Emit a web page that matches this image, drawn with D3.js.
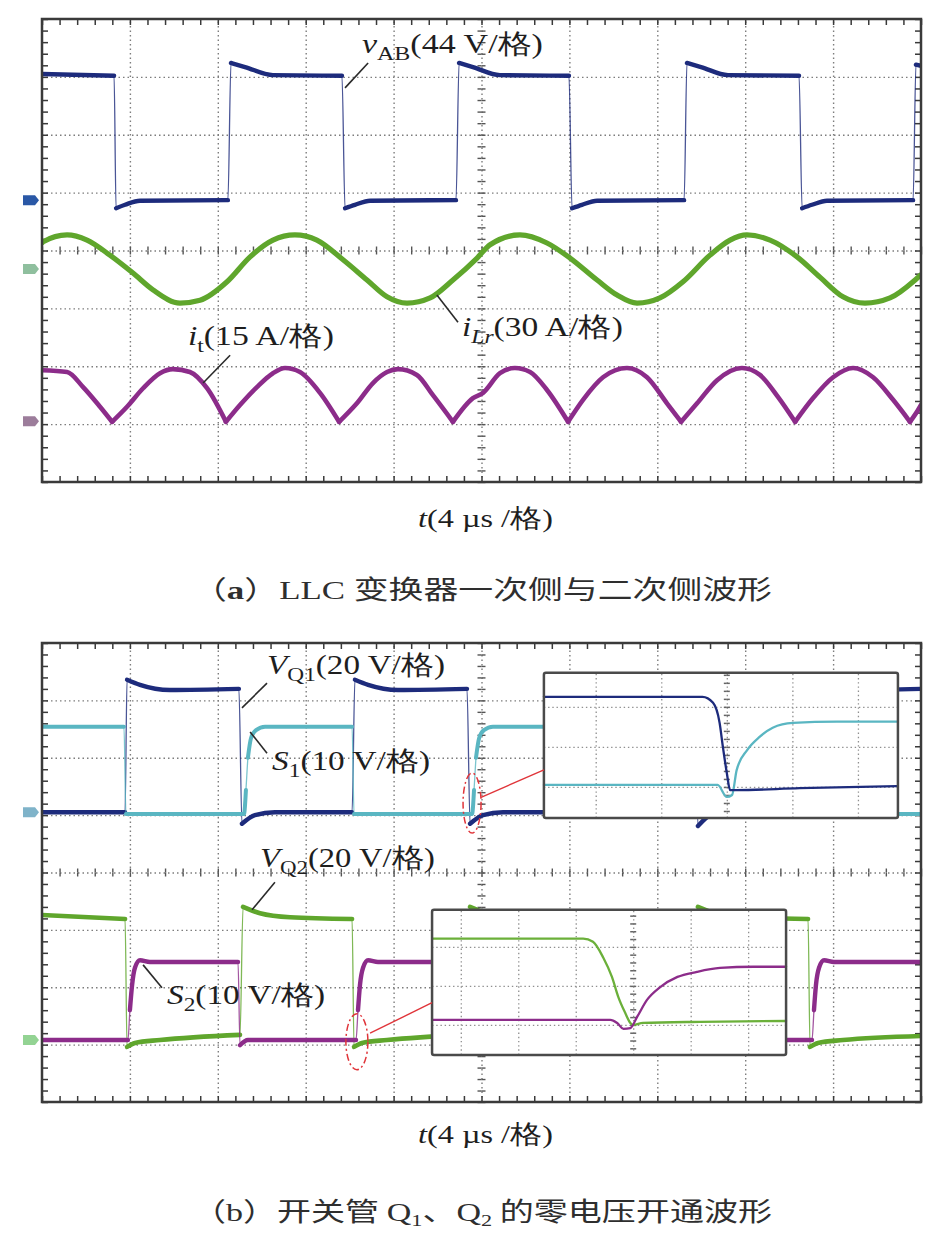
<!DOCTYPE html>
<html><head><meta charset="utf-8">
<script src="https://cdn.jsdelivr.net/npm/d3@7"></script>
<style>body{margin:0;background:#fff}svg{display:block}</style>
</head><body>
<svg id="c" width="952" height="1244"></svg>
<script>
// ---------- DATA (time in µs, amplitude in screen divisions from centre) ----------
const timeDomain = [0, 40];          // 10 div × 4 µs
const divDomain = [-4, 4];           // 8 vertical divisions
const majorT = [4, 8, 12, 16, 20, 24, 28, 32, 36];
const majorD = [-3, -2, -1, 0, 1, 2, 3];

// Panel (a)
const vAB = [[0,3.05],[3.28,3.02],[3.37,0.73],[3.78,0.79],[4.46,0.86],[8.46,0.87],[8.6,3.24],[9.24,3.17],[10.51,3.03],[13.65,3.02],[13.79,0.73],[14.24,0.79],[14.93,0.86],[18.84,0.87],[18.98,3.24],[19.61,3.17],[20.84,3.03],[23.98,3.02],[24.12,0.73],[24.57,0.79],[25.26,0.86],[29.22,0.87],[29.35,3.24],[29.99,3.17],[31.22,3.03],[34.45,3.02],[34.59,0.73],[35.04,0.79],[35.72,0.86],[39.64,0.87],[39.77,3.21],[40,3.19]];
const iLr = [[0,0.13],[0.05,0.15],[1.14,0.27],[2.05,0.18],[3.09,-0.08],[4.14,-0.39],[5.05,-0.68],[6.28,-0.91],[7.19,-0.86],[8.42,-0.54],[9.47,-0.11],[10.51,0.18],[11.51,0.27],[12.51,0.18],[13.70,-0.16],[14.79,-0.51],[15.70,-0.80],[16.61,-0.91],[17.66,-0.82],[18.70,-0.51],[19.80,-0.13],[20.39,0.10],[21.75,0.27],[22.98,0.13],[24.03,-0.13],[25.26,-0.51],[26.17,-0.77],[27.08,-0.91],[28.12,-0.82],[29.17,-0.54],[30.40,-0.08],[31.31,0.18],[32.08,0.27],[33.13,0.18],[34.36,-0.11],[35.40,-0.46],[36.45,-0.80],[37.45,-0.91],[38.59,-0.82],[39.82,-0.48],[40,-0.42]];
const it = [[0,-2.07],[1.14,-2.10],[1.87,-2.36],[2.64,-2.70],[3.19,-2.96],[3.87,-2.70],[4.60,-2.38],[5.37,-2.12],[5.96,-2.05],[6.73,-2.10],[7.51,-2.38],[8.37,-2.96],[9.01,-2.67],[9.78,-2.36],[10.51,-2.12],[11.06,-2.03],[11.74,-2.10],[12.65,-2.46],[13.52,-2.96],[14.33,-2.64],[15.06,-2.29],[15.70,-2.10],[16.20,-2.05],[17.06,-2.15],[17.79,-2.50],[18.70,-2.96],[19.61,-2.55],[20.07,-2.46],[20.84,-2.12],[21.52,-2.03],[22.21,-2.10],[22.98,-2.41],[23.94,-2.96],[24.62,-2.58],[25.53,-2.19],[26.62,-2.03],[27.53,-2.19],[28.44,-2.64],[29.08,-2.96],[29.81,-2.64],[30.72,-2.24],[31.85,-2.03],[32.67,-2.15],[33.49,-2.53],[34.27,-2.96],[35.09,-2.55],[36.00,-2.19],[36.91,-2.03],[37.82,-2.19],[38.73,-2.58],[39.50,-2.96],[39.86,-2.76],[40,-2.67]];

// Panel (b)
const vQ1 = [[0,1.05],[3.78,1.05],[3.87,3.36],[4.46,3.27],[5.82,3.18],[8.96,3.20],[9.10,0.85],[9.69,1.00],[10.60,1.05],[14.11,1.05],[14.24,3.36],[14.84,3.27],[16.20,3.18],[19.34,3.20],[19.48,0.85],[20.07,1.00],[20.98,1.05],[24.48,1.05],[24.62,3.36],[25.21,3.27],[26.58,3.18],[29.72,3.20],[29.85,0.81],[30.44,1.00],[31.35,1.05],[34.86,1.05],[34.99,3.36],[35.59,3.27],[36.95,3.18],[40,3.20]];
const s1 = [[0,2.54],[3.73,2.54],[3.82,1.02],[9.19,1.02],[9.28,1.44],[9.37,2.00],[9.51,2.34],[9.74,2.48],[10.15,2.54],[14.11,2.54],[14.20,1.02],[19.57,1.02],[19.66,1.44],[19.75,2.00],[19.89,2.34],[20.11,2.48],[20.52,2.54],[24.48,2.54],[24.57,1.02],[29.94,1.02],[30.03,1.44],[30.13,2.00],[30.26,2.34],[30.49,2.48],[30.90,2.54],[34.86,2.54],[34.95,1.02],[40,1.02]];
const vQ2 = [[0,-0.74],[3.78,-0.81],[3.87,-3.04],[4.23,-2.97],[5.37,-2.92],[9.01,-2.83],[9.15,-0.60],[9.92,-0.71],[11.29,-0.78],[14.11,-0.81],[14.20,-3.04],[14.56,-2.97],[15.70,-2.92],[19.34,-2.83],[19.48,-0.60],[20.25,-0.71],[21.62,-0.78],[24.48,-0.81],[24.57,-3.04],[24.94,-2.97],[26.08,-2.92],[29.72,-2.83],[29.85,-0.60],[30.63,-0.71],[31.99,-0.78],[34.86,-0.81],[34.95,-3.04],[35.31,-2.97],[36.45,-2.92],[40,-2.85]];
const s2 = [[0,-2.92],[3.91,-2.92],[4.00,-2.40],[4.10,-1.96],[4.23,-1.66],[4.46,-1.53],[4.91,-1.56],[8.92,-1.56],[9.01,-3.01],[9.37,-2.92],[14.29,-2.92],[14.38,-2.40],[14.47,-1.96],[14.61,-1.66],[14.84,-1.53],[15.29,-1.56],[19.29,-1.56],[19.39,-3.01],[19.75,-2.92],[24.66,-2.92],[24.76,-2.40],[24.85,-1.96],[24.98,-1.66],[25.21,-1.53],[25.67,-1.56],[29.67,-1.56],[29.76,-3.01],[30.13,-2.92],[35.04,-2.92],[35.13,-2.40],[35.22,-1.96],[35.36,-1.66],[35.59,-1.53],[36.04,-1.56],[40,-1.56]];

// Zoomed insets (inset divisions)
const inset1VQ1 = [[-2.79,1.25],[-0.37,1.25],[-0.21,1.10],[-0.11,0.60],[-0.06,0],[0,-0.65],[0.05,-1.08],[0.15,-1.08],[1.11,-1.03],[2.61,-0.98]];
const inset1S1 = [[-2.79,-0.95],[-0.14,-0.95],[0,-1.25],[0.08,-1.2],[0.15,-0.58],[0.31,-0.08],[0.50,0.25],[0.70,0.48],[1.01,0.60],[1.68,0.63],[2.61,0.63]];
const inset2VQ2 = [[-3.5,1.21],[-0.87,1.21],[-0.70,1.13],[-0.52,0.72],[-0.37,0.23],[-0.26,-0.28],[-0.14,-0.69],[-0.05,-0.95],[0,-1.0],[0.17,-0.95],[1.17,-0.92],[2.66,-0.90]];
const inset2S2 = [[-3.5,-0.87],[-0.40,-0.87],[-0.28,-0.95],[-0.17,-1.10],[-0.05,-1.08],[0.07,-0.79],[0.24,-0.36],[0.47,-0.03],[0.77,0.23],[1.11,0.36],[1.51,0.46],[2.09,0.49],[2.66,0.49]];

// channel ground markers (divisions)
const markersA = [0.87, -0.32, -2.95];
const markersB = [1.05, -2.92];

// ---------- LAYOUT ----------
const svg = d3.select('#c');
const x = d3.scaleLinear(timeDomain, [42, 921]);
const yA = d3.scaleLinear(divDomain, [482, 19]);
const yB = d3.scaleLinear(divDomain, [1102, 643]);
const minorT = d3.range(0, 40.001, 0.8);
const minorD = d3.range(-4, 4.001, 0.2);

const C = {navy:'#1d2b7c', green:'#5fa62c', purple:'#8c2c8a', cyan:'#5ab6c2', grid:'#7d7d7d', frame:'#3a3a3a'};

function styleAxis(sel, stroke, width, dash) {
  sel.select('.domain').remove();
  sel.selectAll('line').attr('stroke', stroke).attr('stroke-width', width).attr('stroke-dasharray', dash || null);
}

function screen(id, y) {
  const g = svg.append('g');
  const [yb, yt] = y.range();
  const [x0, x1] = x.range();
  g.append('rect').attr('x', x0).attr('y', yt).attr('width', x1 - x0).attr('height', yb - yt).attr('fill', '#fff');
  g.append('g').attr('transform', `translate(0,${yb})`)
    .call(d3.axisBottom(x).tickValues(majorT).tickSize(-(yb - yt)).tickFormat(''))
    .call(s => styleAxis(s, C.grid, 1.4, '1.5 3'));
  g.append('g').attr('transform', `translate(${x0},0)`)
    .call(d3.axisLeft(y).tickValues(majorD).tickSize(-(x1 - x0)).tickFormat(''))
    .call(s => styleAxis(s, C.grid, 1.4, '1.5 3'));
  [d3.axisBottom, d3.axisTop].forEach(ax => g.append('g').attr('transform', `translate(0,${y(0)})`)
    .call(ax(x).tickValues(minorT).tickSize(4).tickFormat(''))
    .call(s => styleAxis(s, '#555', 1.4)));
  [d3.axisLeft, d3.axisRight].forEach(ax => g.append('g').attr('transform', `translate(${x(20)},0)`)
    .call(ax(y).tickValues(minorD).tickSize(4).tickFormat(''))
    .call(s => styleAxis(s, '#555', 1.4)));
  g.append('g').attr('transform', `translate(0,${yt})`).call(d3.axisBottom(x).tickValues(minorT).tickSize(6).tickFormat('')).call(s => styleAxis(s, C.frame, 1.5));
  g.append('g').attr('transform', `translate(0,${yb})`).call(d3.axisTop(x).tickValues(minorT).tickSize(6).tickFormat('')).call(s => styleAxis(s, C.frame, 1.5));
  g.append('g').attr('transform', `translate(${x0},0)`).call(d3.axisRight(y).tickValues(minorD).tickSize(6).tickFormat('')).call(s => styleAxis(s, C.frame, 1.5));
  g.append('g').attr('transform', `translate(${x1},0)`).call(d3.axisLeft(y).tickValues(minorD).tickSize(6).tickFormat('')).call(s => styleAxis(s, C.frame, 1.5));
  svg.append('clipPath').attr('id', 'clip' + id).append('rect')
    .attr('x', x0).attr('y', yt).attr('width', x1 - x0).attr('height', yb - yt);
  return g;
}

function frame(y) {
  const [yb, yt] = y.range();
  const [x0, x1] = x.range();
  svg.append('rect').attr('x', x0).attr('y', yt).attr('width', x1 - x0).attr('height', yb - yt)
    .attr('fill', 'none').attr('stroke', C.frame).attr('stroke-width', 2.5);
}

const lineGen = (xs, ys) => d3.line().x(d => xs(d[0])).y(d => ys(d[1])).curve(d3.curveMonotoneX);

// Thin line for the whole trace, thick line for the settled (non-edge) parts,
// like a sampled scope trace where fast edges are drawn faint.
function trace(g, data, xs, ys, color, w, id, thinEdges) {
  const clip = id ? `url(#clip${id})` : null;
  if (!thinEdges) {
    g.append('path').datum(data).attr('clip-path', clip)
      .attr('fill', 'none').attr('stroke', color).attr('stroke-width', w)
      .attr('stroke-linejoin', 'round').attr('stroke-linecap', 'round')
      .attr('d', lineGen(xs, ys));
    return;
  }
  g.append('path').datum(data).attr('clip-path', clip)
    .attr('fill', 'none').attr('stroke', color).attr('stroke-width', 1.3).attr('opacity', 0.8)
    .attr('d', lineGen(xs, ys));
  const runs = []; let cur = [data[0]];
  for (let i = 1; i < data.length; i++) {
    const dt = data[i][0] - data[i - 1][0], dd = Math.abs(data[i][1] - data[i - 1][1]);
    if (dt < 0.2 && dd > 0.5) { runs.push(cur); cur = [data[i]]; } else cur.push(data[i]);
  }
  runs.push(cur);
  runs.filter(r => r.length > 1).forEach(r => g.append('path').datum(r).attr('clip-path', clip)
    .attr('fill', 'none').attr('stroke', color).attr('stroke-width', w)
    .attr('stroke-linejoin', 'round').attr('stroke-linecap', 'round')
    .attr('d', lineGen(xs, ys)));
}

function splitAtMinima(arr) {
  const segs = []; let cur = [arr[0]];
  for (let i = 1; i < arr.length; i++) {
    cur.push(arr[i]);
    if (i < arr.length - 1 && arr[i][1] < arr[i - 1][1] && arr[i][1] < arr[i + 1][1]) { segs.push(cur); cur = [arr[i]]; }
  }
  segs.push(cur); return segs;
}

function marker(y, d, color) {
  const cy = y(d);
  svg.append('path').attr('d', `M23,${cy - 5}H35L39,${cy}L35,${cy + 5}H23Z`).attr('fill', color);
}

// ---------- PANEL (a) ----------
const gA = screen('A', yA);
trace(gA, vAB, x, yA, C.navy, 4.4, 'A', true);
trace(gA, iLr, x, yA, C.green, 5.2, 'A');
splitAtMinima(it).forEach(seg => trace(gA, seg, x, yA, C.purple, 4.6, 'A'));
frame(yA);
marker(yA, markersA[0], '#2a58a6');
marker(yA, markersA[1], '#8fbf9e');
marker(yA, markersA[2], '#9c7d9b');

// ---------- PANEL (b) ----------
const gB = screen('B', yB);
trace(gB, vQ1, x, yB, C.navy, 4.4, 'B', true);
trace(gB, s1, x, yB, C.cyan, 4, 'B', true);
trace(gB, vQ2, x, yB, C.green, 4.6, 'B', true);
trace(gB, s2, x, yB, C.purple, 4.4, 'B', true);
frame(yB);
marker(yB, markersB[0], '#7fb3c9');
marker(yB, markersB[1], '#93d393');

// ---------- INSETS ----------
function inset(tSpan, dSpan, xDom, yDom, traces) {
  const xs = d3.scaleLinear(xDom, [x(tSpan[0]), x(tSpan[1])]);
  const ys = d3.scaleLinear(yDom, [yB(dSpan[0]), yB(dSpan[1])]);
  const g = svg.append('g');
  const [x0, x1] = xs.range(), [yb, yt] = ys.range();
  g.append('rect').attr('x', x0).attr('y', yt).attr('width', x1 - x0).attr('height', yb - yt).attr('fill', '#fff');
  const vt = d3.range(Math.ceil(xDom[0]), Math.floor(xDom[1]) + 1);
  g.append('g').attr('transform', `translate(0,${yb})`)
    .call(d3.axisBottom(xs).tickValues(vt).tickSize(-(yb - yt)).tickFormat(''))
    .call(s => styleAxis(s, '#8f8f8f', 1.3, '1.4 2.8'));
  g.append('g').attr('transform', `translate(${x0},0)`)
    .call(d3.axisLeft(ys).tickValues([-1, 0, 1]).tickSize(-(x1 - x0)).tickFormat(''))
    .call(s => styleAxis(s, '#8f8f8f', 1.3, '1.4 2.8'));
  [d3.axisLeft, d3.axisRight].forEach(ax => g.append('g').attr('transform', `translate(${xs(0)},0)`)
    .call(ax(ys).tickValues(d3.range(-1.6, 1.81, 0.2)).tickSize(3).tickFormat(''))
    .call(s => styleAxis(s, '#666', 1.5)));
  traces.forEach(([data, color]) => trace(g, data, xs, ys, color, 2.3, null));
  g.append('rect').attr('x', x0).attr('y', yt).attr('width', x1 - x0).attr('height', yb - yt)
    .attr('rx', 2).attr('fill', 'none').attr('stroke', '#4a4a4a').attr('stroke-width', 2.5);
}
inset([22.84, 38.95], [0.95, 3.48], [-2.79, 2.61], [-1.775, 1.85], [[inset1S1, C.cyan], [inset1VQ1, C.navy]]);
inset([17.75, 33.86], [-3.18, -0.65], [-3.5, 2.66], [-1.77, 1.95], [[inset2VQ2, '#6bb03a'], [inset2S2, C.purple]]);

function zoomMark(c, rx, ry, from, to) {
  svg.append('ellipse').attr('cx', x(c[0])).attr('cy', yB(c[1])).attr('rx', rx).attr('ry', ry)
    .attr('fill', 'none').attr('stroke', '#e0353a').attr('stroke-width', 1.5).attr('stroke-dasharray', '7 3 2 3');
  svg.append('line').attr('x1', x(from[0])).attr('y1', yB(from[1])).attr('x2', x(to[0])).attr('y2', yB(to[1]))
    .attr('stroke', '#e0353a').attr('stroke-width', 1.4);
}
zoomMark([19.57, 1.21], 9, 30, [19.98, 1.31], [22.84, 1.79]);
zoomMark([14.33, -2.95], 11, 28, [14.93, -2.80], [17.75, -2.27]);

// ---------- LABELS ----------
const serif = '"Liberation Serif","Times New Roman",serif';
function label(y, t, d, len, parts, lead) {
  const txt = svg.append('text').attr('x', x(t)).attr('y', y(d))
    .attr('font-family', serif).attr('font-size', 27).attr('fill', '#1e1e1e')
    .attr('textLength', len).attr('lengthAdjust', 'spacingAndGlyphs');
  parts.forEach(([s, st]) => {
    const ts = txt.append('tspan').text(s);
    if (st.includes('i')) ts.attr('font-style', 'italic');
    if (st.includes('s')) ts.attr('font-size', 19).attr('dy', 7);
    if (st.includes('r')) ts.attr('dy', -7);
  });
  svg.append('line').attr('x1', x(lead[0][0])).attr('y1', y(lead[0][1])).attr('x2', x(lead[1][0])).attr('y2', y(lead[1][1]))
    .attr('stroke', '#2a2a2a').attr('stroke-width', 1.6);
}
label(yA, 14.56, 3.42, 181, [['v','i'],['AB','s'],['(44 V/格)','r']], [[14.84,3.24],[13.79,2.81]]);
label(yA, 19.11, -1.47, 161, [['i','i'],['Lr','is'],['(30 A/格)','r']], [[17.97,-0.77],[18.93,-1.24]]);
label(yA, 6.64, -1.64, 146, [['i','i'],['t','s'],['(15 A/格)','r']], [[8.56,-1.81],[7.33,-2.29]]);
label(yB, 10.24, 3.46, 178, [['V','i'],['Q1','s'],['(20 V/格)','r']], [[10.24,3.30],[9.10,2.87]]);
label(yB, 10.47, 1.79, 158, [['S','i'],['1','s'],['(10 V/格)','r']], [[10.24,2.08],[9.47,2.45]]);
label(yB, 9.92, 0.10, 175, [['V','i'],['Q2','s'],['(20 V/格)','r']], [[10.60,-0.17],[9.56,-0.65]]);
label(yB, 5.69, -2.30, 158, [['S','i'],['2','s'],['(10 V/格)','r']], [[5.46,-2.01],[4.60,-1.61]]);

function axisTitle(yPix) {
  const t = svg.append('text').attr('x', 418).attr('y', yPix).attr('font-family', serif).attr('font-size', 26)
    .attr('fill', '#1e1e1e').attr('textLength', 135).attr('lengthAdjust', 'spacingAndGlyphs');
  t.append('tspan').attr('font-style', 'italic').text('t');
  t.append('tspan').text('(4 µs /格)');
}
axisTitle(527);
axisTitle(1143);

function caption(yPix, parts) {
  const t = svg.append('text').attr('x', 192).attr('y', yPix).attr('font-size', 26).attr('fill', '#2e2e2e')
    .attr('font-family', '"Noto Sans CJK SC",sans-serif')
    .attr('textLength', 580).attr('lengthAdjust', 'spacingAndGlyphs');
  parts.forEach(([s, st]) => {
    const ts = t.append('tspan').text(s);
    if (st.includes('l')) ts.attr('font-family', serif);
    if (st.includes('b')) ts.attr('font-weight', 'bold');
    if (st.includes('s')) ts.attr('font-size', 17).attr('dy', 5);
    if (st.includes('r')) ts.attr('dy', -5);
  });
}
caption(599, [['（', ''], ['a', 'lb'], ['）', ''], ['LLC ', 'l'], ['变换器一次侧与二次侧波形', '']]);
caption(1221, [['（', ''], ['b', 'l'], ['）开关管 ', ''], ['Q', 'l'], ['1', 'ls'], ['、', 'r'], ['Q', 'l'], ['2', 'ls'], [' 的零电压开通波形', 'r']]);
</script>
</body></html>
